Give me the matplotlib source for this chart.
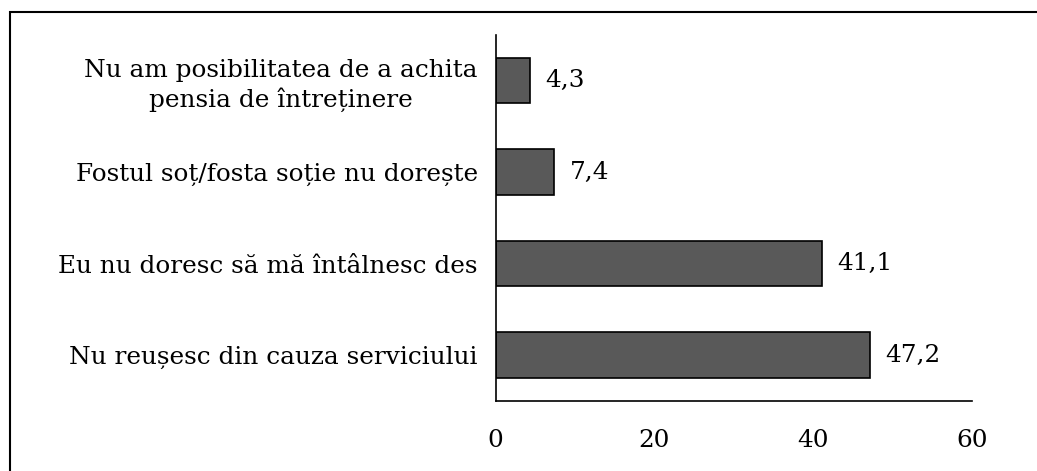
import numpy as np
import matplotlib
matplotlib.use("Agg")
from matplotlib import pyplot as plt
from matplotlib.patches import Rectangle

categories = ["Nu reușesc din cauza serviciului",
              "Eu nu doresc să mă întâlnesc des",
              "Fostul soț/fosta soție nu dorește",
              "Nu am posibilitatea de a achita\npensia de întreținere"]
values = [47.2, 41.1, 7.4, 4.3]
xticks = [0, 20, 40, 60]

plt.rcParams['font.family'] = ['DejaVu Serif']
fs = 17.8

fig = plt.figure(figsize=(10.37, 4.71), dpi=100)
ax = fig.add_axes([0.478, 0.149, 0.459, 0.777])

y = np.arange(len(categories))
ax.barh(y, values, height=0.5, color='#595959', edgecolor='black', linewidth=1.2)

for yi, v in zip(y, values):
    ax.text(v + 1.9, yi, f"{v:.1f}".replace('.', ','), va='center', ha='left', fontsize=fs)

ax.set_xlim(0, 60)
ax.set_ylim(-0.5, 3.5)
ax.set_xticks(xticks)
ax.set_xticklabels([str(t) for t in xticks], fontsize=fs)
ax.set_yticks(y)
ax.set_yticklabels(categories, fontsize=fs, multialignment='center', linespacing=1.25)
ax.tick_params(axis='both', length=0)
ax.tick_params(axis='x', pad=20)
ax.tick_params(axis='y', pad=13)

for s in ['top', 'right']:
    ax.spines[s].set_visible(False)
for s in ['left', 'bottom']:
    ax.spines[s].set_linewidth(1.2)

# frame around the chart (top and left edges visible)
fig.patches.append(Rectangle((10 / 1037, -0.1), 1.2, 1.1 - 12 / 471, transform=fig.transFigure,
                             fill=False, edgecolor='black', linewidth=1.5))

fig.savefig("out.png", dpi=100)
